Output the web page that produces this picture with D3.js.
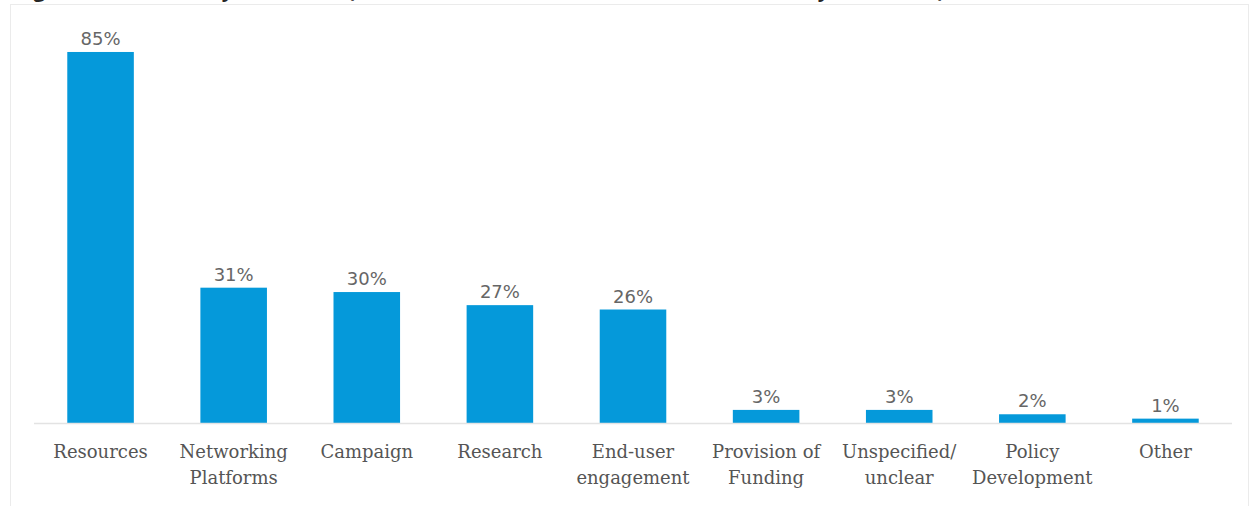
<!DOCTYPE html>
<html>
<head>
<meta charset="utf-8">
<script src="https://cdn.jsdelivr.net/npm/d3@7/dist/d3.min.js"></script>
<style>
  html, body { margin: 0; padding: 0; background: #ffffff; }
  svg { display: block; }
</style>
</head>
<body>
<svg id="chart" width="1255" height="506"></svg>
<script>
// Share of initiatives reporting each type of activity (%)
const categories = [
  ["Resources"],
  ["Networking", "Platforms"],
  ["Campaign"],
  ["Research"],
  ["End-user", "engagement"],
  ["Provision of", "Funding"],
  ["Unspecified/", "unclear"],
  ["Policy", "Development"],
  ["Other"]
];
const values = [85, 31, 30, 27, 26, 3, 3, 2, 1];
const valueLabels = ["85%", "31%", "30%", "27%", "26%", "3%", "3%", "2%", "1%"];
const title = "Figure 4: Activities by main area (share of the activities that were mentioned by initiatives)";

const svg = d3.select("#chart");

// light panel frame
svg.append("rect")
  .attr("x", 10.5).attr("y", 4.5)
  .attr("width", 1238).attr("height", 520)
  .attr("fill", "#ffffff")
  .attr("stroke", "#ebebeb")
  .attr("stroke-width", 1);

// title sits above the panel
svg.append("text")
  .attr("x", 16).attr("y", -3)
  .attr("font-family", "'Open Sans', sans-serif")
  .attr("font-weight", "bold")
  .attr("font-size", 20.5)
  .attr("fill", "#262626")
  .text(title);

const baseY = 423;
const x = d3.scaleBand()
  .domain(d3.range(categories.length))
  .range([34, 1232])
  .paddingInner(0.5)
  .paddingOuter(0.25);

const y = d3.scaleLinear()
  .domain([0, 90])
  .range([baseY, baseY - 90 * 4.365]);

// bars
svg.append("g").selectAll("rect")
  .data(values)
  .join("rect")
  .attr("x", (d, i) => x(i))
  .attr("width", x.bandwidth())
  .attr("y", d => y(d))
  .attr("height", d => y(0) - y(d))
  .attr("fill", "#0599da");

// baseline
svg.append("line")
  .attr("x1", 34).attr("x2", 1232)
  .attr("y1", baseY + 0.5).attr("y2", baseY + 0.5)
  .attr("stroke", "#e3e3e3")
  .attr("stroke-width", 1.5);

// value labels
svg.append("g").selectAll("text")
  .data(values)
  .join("text")
  .attr("x", (d, i) => x(i) + x.bandwidth() / 2)
  .attr("y", d => y(d) - 7)
  .attr("text-anchor", "middle")
  .attr("font-family", "'DejaVu Sans', sans-serif")
  .attr("font-size", 18)
  .attr("fill", "#666666")
  .text((d, i) => valueLabels[i]);

// category labels (two lines where needed)
const cat = svg.append("g").selectAll("text")
  .data(categories)
  .join("text")
  .attr("x", (d, i) => x(i) + x.bandwidth() / 2)
  .attr("y", 458)
  .attr("text-anchor", "middle")
  .attr("font-family", "'DejaVu Serif', serif")
  .attr("font-size", 18)
  .attr("fill", "#555555");

cat.selectAll("tspan")
  .data(d => d)
  .join("tspan")
  .attr("x", function () { return d3.select(this.parentNode).attr("x"); })
  .attr("dy", (d, j) => j === 0 ? 0 : 26)
  .text(d => d);
</script>
</body>
</html>
